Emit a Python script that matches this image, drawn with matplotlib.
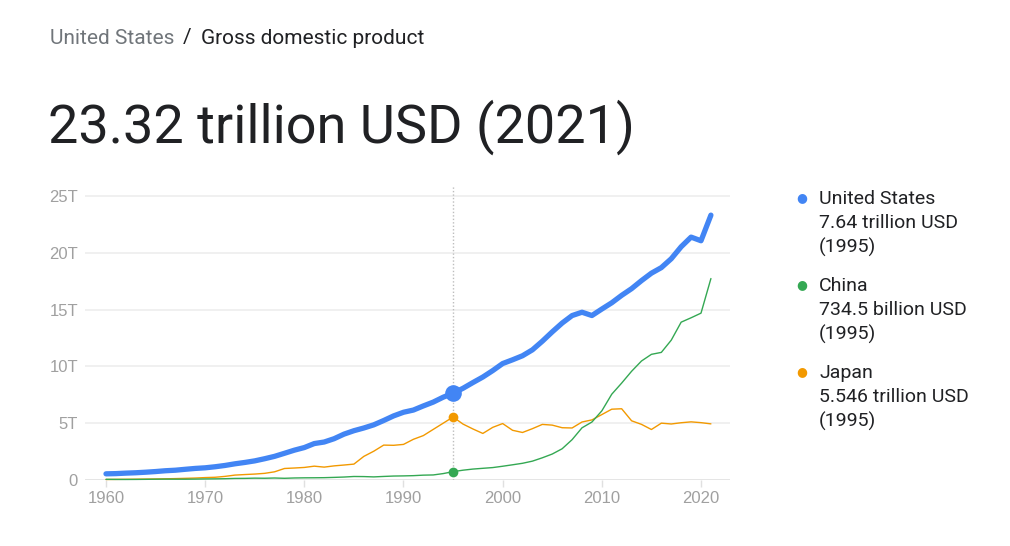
import matplotlib
matplotlib.use("Agg")
import matplotlib.pyplot as plt

years = list(range(1960, 2022))
us = [0.543, 0.563, 0.605, 0.638, 0.686, 0.744, 0.815, 0.862, 0.943, 1.019,
      1.073, 1.165, 1.280, 1.425, 1.545, 1.684, 1.873, 2.082, 2.352, 2.627,
      2.857, 3.207, 3.343, 3.634, 4.037, 4.339, 4.579, 4.855, 5.236, 5.642,
      5.963, 6.158, 6.520, 6.858, 7.287, 7.640, 8.073, 8.577, 9.063, 9.631,
      10.251, 10.582, 10.936, 11.458, 12.217, 13.039, 13.816, 14.474, 14.769, 14.478,
      15.049, 15.600, 16.254, 16.843, 17.551, 18.206, 18.695, 19.477, 20.533, 21.381,
      21.060, 23.315]
china = [0.060, 0.050, 0.047, 0.051, 0.059, 0.070, 0.077, 0.073, 0.071, 0.080,
         0.093, 0.100, 0.114, 0.139, 0.144, 0.163, 0.154, 0.175, 0.150, 0.178,
         0.191, 0.196, 0.205, 0.230, 0.260, 0.309, 0.301, 0.273, 0.313, 0.348,
         0.361, 0.383, 0.427, 0.445, 0.564, 0.7345, 0.864, 0.962, 1.029, 1.094,
         1.211, 1.339, 1.471, 1.660, 1.955, 2.286, 2.752, 3.550, 4.594, 5.102,
         6.087, 7.552, 8.532, 9.570, 10.476, 11.062, 11.233, 12.310, 13.895, 14.280,
         14.688, 17.734]
japan = [0.044, 0.054, 0.061, 0.070, 0.082, 0.091, 0.106, 0.124, 0.147, 0.172,
         0.213, 0.240, 0.318, 0.432, 0.480, 0.522, 0.586, 0.721, 1.014, 1.055,
         1.105, 1.218, 1.134, 1.243, 1.318, 1.399, 2.079, 2.533, 3.072, 3.054,
         3.133, 3.584, 3.909, 4.455, 4.999, 5.546, 4.923, 4.492, 4.098, 4.635,
         4.968, 4.375, 4.183, 4.519, 4.893, 4.831, 4.601, 4.579, 5.106, 5.289,
         5.759, 6.233, 6.272, 5.212, 4.897, 4.445, 5.004, 4.931, 5.041, 5.118,
         5.048, 4.941]

series_names = ["United States", "China", "Japan"]
series_values = [us, china, japan]
series_labels = ["7.64 trillion USD", "734.5 billion USD", "5.546 trillion USD"]
highlight_year = 1995
x_ticks = [1960, 1970, 1980, 1990, 2000, 2010, 2020]
y_ticks = [0, 5, 10, 15, 20, 25]
y_tick_labels = ["0", "5T", "10T", "15T", "20T", "25T"]

colors = ["#4285f4", "#34a853", "#f29900"]
widths = [3.8, 1.0, 1.0]
msizes = [12, 7, 7]

W, H = 1010, 546
fig = plt.figure(figsize=(W / 100, H / 100), dpi=100)
fig.patch.set_facecolor("white")

ax = fig.add_axes([85 / W, 1 - 480 / H, (730 - 85) / W, (480 - 186) / H])
x_per_px = 60 / (701 - 106)
ax.set_xlim(1960 - (106 - 85) * x_per_px, 2020 + (730 - 701) * x_per_px)
ax.set_ylim(0, 25 * (480 - 186) / (480 - 196))

for v in y_ticks[1:]:
    ax.axhline(v, color="#eeeeee", lw=1.2, zorder=0)
ax.axhline(0, color="#e0e0e0", lw=1.2, zorder=0)

hi = years.index(highlight_year)
ax.axvline(highlight_year, color="#bdbdbd", lw=1.0, ls=(0, (1, 1.5)), zorder=1)

order = [2, 1, 0]
for i in order:
    ax.plot(years, series_values[i], color=colors[i], lw=widths[i],
            solid_joinstyle="round", solid_capstyle="round", zorder=3 + (i == 0), clip_on=False)
    ax.plot([highlight_year], [series_values[i][hi]], "o", color=colors[i],
            ms=msizes[i], mec="none", zorder=5, clip_on=False)

for s in ax.spines.values():
    s.set_visible(False)
ax.set_xticks(x_ticks)
ax.set_xticklabels([str(t) for t in x_ticks])
ax.set_yticks(y_ticks)
ax.set_yticklabels(y_tick_labels)
ax.tick_params(axis="x", length=5, width=1, color="#e0e0e0", colors="#a0a0a0",
               labelsize=12, pad=3)
ax.tick_params(axis="x", color="#e0e0e0")
ax.tick_params(axis="y", length=0, colors="#a0a0a0", labelsize=12, pad=5)
for lab in ax.get_xticklabels() + ax.get_yticklabels():
    lab.set_fontfamily("Liberation Sans")

# Header texts
fig.text(50 / W, 1 - 38 / H, "United States", fontsize=15, family="Roboto",
         color="#70757a", va="center", ha="left")
fig.text(183 / W, 1 - 38 / H, "/", fontsize=15, family="Roboto",
         color="#202124", va="center", ha="left")
fig.text(201 / W, 1 - 38 / H, "Gross domestic product", fontsize=15, family="Roboto",
         color="#202124", va="center", ha="left")
fig.text(48 / W, 1 - 127 / H, "23.32 trillion USD (2021)", fontsize=39, family="Roboto",
         color="#202124", va="center", ha="left")

# Legend
legend_y = [199, 286, 373]
for i in range(3):
    y0 = legend_y[i]
    fig.text(802 / W, 1 - (y0 - 1) / H, "\u25CF", fontsize=9, color=colors[i],
             va="center", ha="center", family="DejaVu Sans")
    for j, line in enumerate([series_names[i], series_labels[i], f"({highlight_year})"]):
        fig.text(819 / W, 1 - (y0 + 24 * j) / H, line, fontsize=14, family="Roboto",
                 color="#202124", va="center", ha="left")

fig.savefig("out.png", dpi=100, facecolor="white")
